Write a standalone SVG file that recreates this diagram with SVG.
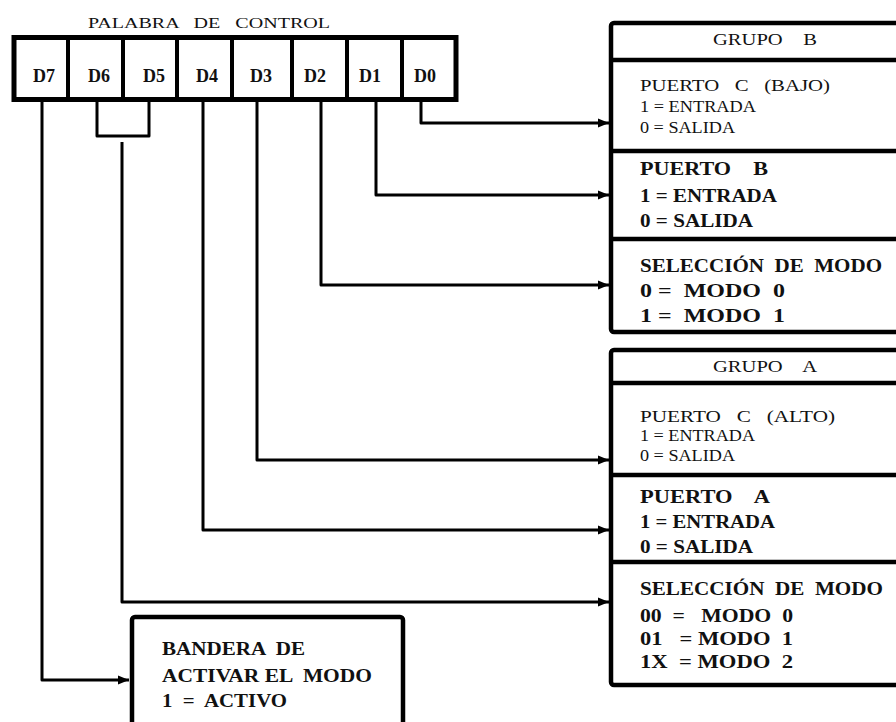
<svg xmlns="http://www.w3.org/2000/svg" width="896" height="722" viewBox="0 0 896 722">
<style>
text{font-family:"Liberation Serif","Times New Roman",serif;fill:#111;white-space:pre}
.r{font-size:17px}
.b{font-size:18px;font-weight:bold}
.d{font-size:18px;font-weight:bold;text-anchor:middle}
.box{fill:#fff;stroke:#000;stroke-width:4.5}
.div{stroke:#000;stroke-width:4.5}
.cell{stroke:#000;stroke-width:4}
.con{fill:none;stroke:#000;stroke-width:3;stroke-linejoin:round}
</style>
<defs>
<marker id="ah" markerUnits="userSpaceOnUse" markerWidth="12" markerHeight="10" refX="11" refY="5" orient="auto">
<path d="M0,0.5 L11,5 L0,9.5 Z" fill="#000"/>
</marker>
</defs>
<rect width="896" height="722" fill="#fff"/>

<g id="palabra">
<text x="88" y="28" font-size="15" textLength="242" lengthAdjust="spacingAndGlyphs">PALABRA   DE   CONTROL</text>
<rect x="14" y="37.5" width="442" height="62" fill="#fff" stroke="#000" stroke-width="5"/>
<line class="cell" x1="68" y1="37" x2="68" y2="100"/>
<line class="cell" x1="123" y1="37" x2="123" y2="100"/>
<line class="cell" x1="177" y1="37" x2="177" y2="100"/>
<line class="cell" x1="232" y1="37" x2="232" y2="100"/>
<line class="cell" x1="292" y1="37" x2="292" y2="100"/>
<line class="cell" x1="347" y1="37" x2="347" y2="100"/>
<line class="cell" x1="402" y1="37" x2="402" y2="100"/>
<text class="d" x="44" y="82">D7</text>
<text class="d" x="99" y="82">D6</text>
<text class="d" x="154" y="82">D5</text>
<text class="d" x="207" y="82">D4</text>
<text class="d" x="261" y="82">D3</text>
<text class="d" x="315" y="82">D2</text>
<text class="d" x="370" y="82">D1</text>
<text class="d" x="425" y="82">D0</text>
</g>

<g id="grupoB">
<rect class="box" x="611" y="23" width="300" height="309" rx="3"/>
<line class="div" x1="611" y1="60" x2="900" y2="60"/>
<line class="div" x1="611" y1="151" x2="900" y2="151"/>
<line class="div" x1="611" y1="239" x2="900" y2="239"/>
<text class="r" x="713" y="45" textLength="104" lengthAdjust="spacingAndGlyphs">GRUPO    B</text>
<text class="r" x="640" y="91" textLength="190" lengthAdjust="spacingAndGlyphs">PUERTO   C   (BAJO)</text>
<text class="r" x="640" y="112" textLength="116" lengthAdjust="spacingAndGlyphs">1 = ENTRADA</text>
<text class="r" x="640" y="133" textLength="95" lengthAdjust="spacingAndGlyphs">0 = SALIDA</text>
<text class="b" x="640" y="175" textLength="128" lengthAdjust="spacingAndGlyphs">PUERTO    B</text>
<text class="b" x="640" y="202" textLength="137" lengthAdjust="spacingAndGlyphs">1 = ENTRADA</text>
<text class="b" x="640" y="227" textLength="113" lengthAdjust="spacingAndGlyphs">0 = SALIDA</text>
<text class="b" x="640" y="272" textLength="242" lengthAdjust="spacingAndGlyphs">SELECCIÓN  DE  MODO</text>
<text class="b" x="640" y="297" textLength="145" lengthAdjust="spacingAndGlyphs">0 =  MODO  0</text>
<text class="b" x="640" y="322" textLength="145" lengthAdjust="spacingAndGlyphs">1 =  MODO  1</text>
</g>

<g id="grupoA">
<rect class="box" x="611" y="350" width="300" height="335" rx="3"/>
<line class="div" x1="611" y1="383" x2="900" y2="383"/>
<line class="div" x1="611" y1="475" x2="900" y2="475"/>
<line class="div" x1="611" y1="562" x2="900" y2="562"/>
<text class="r" x="713" y="372" textLength="104" lengthAdjust="spacingAndGlyphs">GRUPO    A</text>
<text class="r" x="640" y="422" textLength="195" lengthAdjust="spacingAndGlyphs">PUERTO   C   (ALTO)</text>
<text class="r" x="640" y="441" textLength="115" lengthAdjust="spacingAndGlyphs">1 = ENTRADA</text>
<text class="r" x="640" y="461" textLength="95" lengthAdjust="spacingAndGlyphs">0 = SALIDA</text>
<text class="b" x="640" y="503" textLength="130" lengthAdjust="spacingAndGlyphs">PUERTO    A</text>
<text class="b" x="640" y="528" textLength="135" lengthAdjust="spacingAndGlyphs">1 = ENTRADA</text>
<text class="b" x="640" y="553" textLength="113" lengthAdjust="spacingAndGlyphs">0 = SALIDA</text>
<text class="b" x="640" y="595" textLength="243" lengthAdjust="spacingAndGlyphs">SELECCIÓN  DE  MODO</text>
<text class="b" x="640" y="622" textLength="153" lengthAdjust="spacingAndGlyphs">00  =   MODO  0</text>
<text class="b" x="640" y="645" textLength="153" lengthAdjust="spacingAndGlyphs">01   = MODO  1</text>
<text class="b" x="640" y="668" textLength="153" lengthAdjust="spacingAndGlyphs">1X  = MODO  2</text>
</g>

<g id="bandera">
<rect class="box" x="132" y="617" width="271" height="130" rx="3"/>
<text class="b" x="162" y="655" textLength="143" lengthAdjust="spacingAndGlyphs">BANDERA  DE</text>
<text class="b" x="162" y="682" textLength="210" lengthAdjust="spacingAndGlyphs">ACTIVAR EL  MODO</text>
<text class="b" x="162" y="707" textLength="125" lengthAdjust="spacingAndGlyphs">1  =  ACTIVO</text>
</g>

<g id="connectors">
<path class="con" d="M42,102 V680 H129" marker-end="url(#ah)"/>
<path class="con" d="M97,102 V136 H149 V102"/>
<path class="con" d="M122,142 V602 H609" marker-end="url(#ah)"/>
<path class="con" d="M203,102 V530 H609" marker-end="url(#ah)"/>
<path class="con" d="M257,102 V460 H609" marker-end="url(#ah)"/>
<path class="con" d="M321,102 V285 H609" marker-end="url(#ah)"/>
<path class="con" d="M376,97 V195 H609" marker-end="url(#ah)"/>
<path class="con" d="M421,102 V123 H609" marker-end="url(#ah)"/>
</g>
</svg>
